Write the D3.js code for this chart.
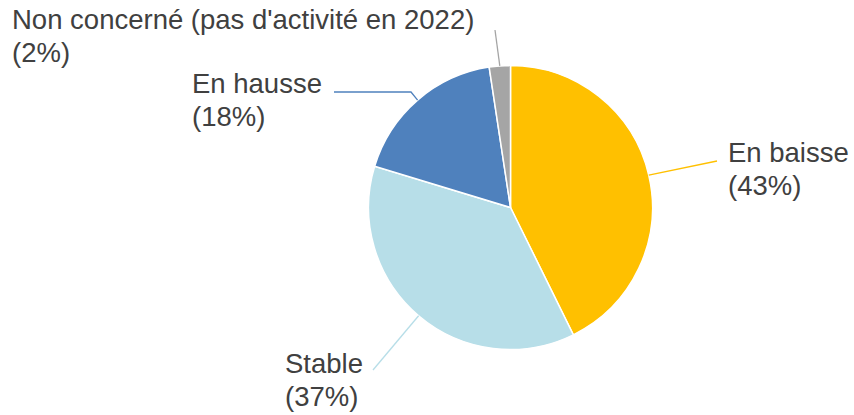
<!DOCTYPE html>
<html>
<head>
<meta charset="utf-8">
<script src="https://cdn.jsdelivr.net/npm/d3@7"></script>
<style>
  html, body { margin: 0; padding: 0; background: #fff; }
  svg { display: block; }
  .lbl { font-family: "Liberation Sans", Arial, sans-serif; font-size: 27.5px; fill: #404040; }
</style>
</head>
<body>
<svg id="chart" width="854" height="415"></svg>
<script>
// données (parts, étiquettes arrondies)
var categories = ["En baisse", "Stable", "En hausse", "Non concerné (pas d'activité en 2022)"];
var values = [42.7, 37.0, 17.9, 2.4];
var colors = ["#FFC000", "#B7DEE8", "#4F81BD", "#A5A5A5"];

// mise en page des étiquettes (texte + coude du trait de rappel)
var labelLayout = [
    { x: 728, y: 162, elbow: [[717, 161]] },
    { x: 285, y: 373, elbow: [[373, 370]] },
    { x: 192, y: 93,  elbow: [[411, 92], [334, 92]] },
    { x: 12,  y: 29,  elbow: [[495, 30]] }
];

var CONFIG = {
    "cx": 510.5,
    "cy": 207.5,
    "radius": 142,
    "line_height": 33
};

var svg = d3.select("#chart");
var g = svg.append("g")
    .attr("transform", "translate(" + CONFIG.cx + "," + CONFIG.cy + ")");

var data = categories.map(function (c, i) {
    return { name: c, value: values[i], color: colors[i], layout: labelLayout[i] };
});

var pie = d3.pie()
    .sort(null)
    .value(function (d) { return d.value; });

var arc = d3.arc()
    .innerRadius(0)
    .outerRadius(CONFIG.radius);

var arcs = pie(data);

// secteurs
g.selectAll("path.slice")
    .data(arcs)
    .enter()
    .append("path")
    .attr("class", "slice")
    .attr("d", arc)
    .attr("fill", function (d) { return d.data.color; })
    .attr("stroke", "#fff")
    .attr("stroke-width", 1.5);

// traits de rappel
var line = d3.line();
svg.selectAll("path.leader")
    .data(arcs)
    .enter()
    .append("path")
    .attr("class", "leader")
    .attr("d", function (d) {
        var mid = (d.startAngle + d.endAngle) / 2;
        var start = [CONFIG.cx + CONFIG.radius * Math.sin(mid), CONFIG.cy - CONFIG.radius * Math.cos(mid)];
        return line([start].concat(d.data.layout.elbow));
    })
    .attr("fill", "none")
    .attr("stroke", function (d) { return d.data.color; })
    .attr("stroke-width", 1.3);

// étiquettes
var labels = svg.selectAll("text.lbl")
    .data(arcs)
    .enter()
    .append("text")
    .attr("class", "lbl")
    .attr("x", function (d) { return d.data.layout.x; })
    .attr("y", function (d) { return d.data.layout.y; });

labels.append("tspan")
    .attr("x", function (d) { return d.data.layout.x; })
    .text(function (d) { return d.data.name; });

labels.append("tspan")
    .attr("x", function (d) { return d.data.layout.x; })
    .attr("dy", CONFIG.line_height)
    .text(function (d) { return "(" + Math.round(d.data.value) + "%)"; });
</script>
</body>
</html>
